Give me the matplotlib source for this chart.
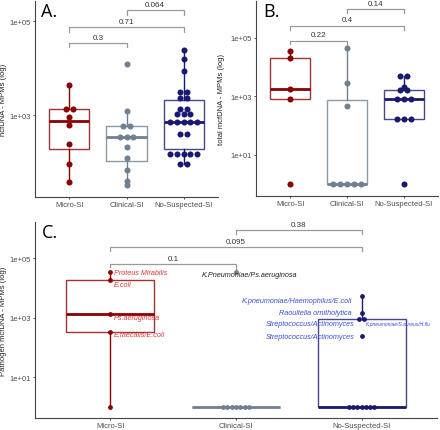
import numpy as np
import matplotlib.pyplot as plt
from matplotlib import cbook

plt.rcParams['font.family'] = ['Liberation Sans', 'DejaVu Sans']

groups = ["Micro-SI", "Clinical-SI", "No-Suspected-SI"]
colors = ["#8B0000", "#708090", "#191970"]

# A. hcfDNA
hcf_micro = [4350, 1360, 1360, 906, 612, 245, 89, 37.5]
hcf_clin = [11970, 1216, 583, 583, 340, 340, 340, 208, 124, 68, 39, 32]
hcf_nosusp = [24900, 15300, 8630, 3080, 3080, 2340, 2340, 1365, 1365,
              1067, 1067, 1067, 709, 709, 709, 709, 709, 401, 401,
              146, 146, 146, 146, 146, 89, 89]
p_hcf = ["0.3", "0.71", "0.064"]

# B. total mcfDNA
tot_micro = [36000, 19700, 1780, 830, 1]
tot_clin = [44500, 2850, 467, 1, 1, 1, 1, 1]
tot_nosusp = [4800, 4800, 2030, 1560, 1560, 810, 810, 810, 160, 160, 160, 1]
p_tot = ["0.22", "0.4", "0.14"]

# C. pathogen mcfDNA
pat_micro = [33000, 17700, 1360, 330, 1]
pat_micro_lab = ["Proteus Mirabilis", "E.coli", "Ps.aeruginosa", "E.faecalis/E.coli", None]
pat_clin = [34000, 1, 1, 1, 1, 1, 1, 1]
pat_clin_lab = ["K.Pneumoniae/Ps.aeruginosa"] + [None] * 7
pat_nosusp = [5240, 1470, 900, 900, 240, 1, 1, 1, 1, 1, 1, 1]
pat_nosusp_lab = ["K.pneumoniae/Haemophilus/E.coli", "Raoultella ornitholytica",
                  "Streptococcus/Actinomyces", "K.pneumoniae/S.aureus/H.flu",
                  "Streptococcus/Actinomyces"] + [None] * 7
p_pat = ["0.1", "0.095", "0.38"]


def box_dots(ax, data, step, dot_s):
    for i, (vals, col) in enumerate(zip(data, colors)):
        pos = i + 1
        # box stats on log scale (like scale_y_log10 in ggplot)
        st = cbook.boxplot_stats(np.log10(vals), whis=1.5)[0]
        for k in ["med", "q1", "q3", "whislo", "whishi", "mean"]:
            st[k] = 10 ** st[k]
        st["fliers"] = []
        ax.bxp([st], positions=[pos], widths=0.7, showfliers=False,
               showcaps=False, patch_artist=True,
               boxprops=dict(facecolor="none", edgecolor=col, linewidth=1.0, alpha=0.8),
               whiskerprops=dict(color=col, linewidth=1.0),
               medianprops=dict(color=col, linewidth=2.0))
        # centred dot stacks
        vals = np.array(vals, dtype=float)
        xs = np.zeros(len(vals))
        for v in np.unique(vals):
            idx = np.where(vals == v)[0]
            n = len(idx)
            xs[idx] = pos + (np.arange(n) - (n - 1) / 2) * step
        ax.scatter(xs, vals, s=dot_s, color=col, zorder=3, linewidths=0)


def bracket(ax, x1, x2, y, label, tip1, tip2):
    ax.plot([x1, x1, x2, x2], [y / 10 ** tip1, y, y, y / 10 ** tip2],
            color="#9a9a9a", lw=0.9)
    ax.annotate(label, ((x1 + x2) / 2, y), xytext=(0, 1.5), textcoords="offset points",
                ha="center", va="bottom", fontsize=5.8, color="#333333")


def style(ax, ylim, ylabel, ticks, letter, lx):
    ax.set_yscale("log")
    ax.set_ylim(*ylim)
    ax.set_xlim(0.4, 3.6)
    ax.set_yticks(ticks)
    ax.set_yticklabels(["1e+%02d" % int(np.log10(t)) for t in ticks])
    ax.minorticks_off()
    ax.set_xticks([1, 2, 3])
    ax.set_xticklabels(groups)
    ax.tick_params(labelsize=5.5, labelcolor="#4d4d4d", length=1.5, width=0.6,
                   color="#333333", pad=1.5)
    ax.set_ylabel(ylabel, fontsize=5.5, color="#222222")
    for s in ["top", "right"]:
        ax.spines[s].set_visible(False)
    for s in ["left", "bottom"]:
        ax.spines[s].set_linewidth(0.8)
        ax.spines[s].set_color("#444444")
    ax.text(lx, 0.997, letter, transform=ax.transAxes, fontsize=13, va="top", ha="left",
            family=["Open Sans", "DejaVu Sans"])


fig = plt.figure(figsize=(4.40, 4.31), dpi=100)
axA = fig.add_axes([0.0795, 0.5406, 0.416, 0.4548])
axB = fig.add_axes([0.5818, 0.543, 0.4136, 0.4524])
axC = fig.add_axes([0.0795, 0.0278, 0.9136, 0.4548])

box_dots(axA, [hcf_micro, hcf_clin, hcf_nosusp], 0.118, 19)
style(axA, (10 ** 1.255, 10 ** 5.43), "hcfDNA - MPMs (log)", [1e3, 1e5], "A.", 0.035)
bracket(axA, 1, 2, 10 ** 4.54, p_hcf[0], 0.1, 0.1)
bracket(axA, 1, 3, 10 ** 4.87, p_hcf[1], 0.1, 0.1)
bracket(axA, 2, 3, 10 ** 5.23, p_hcf[2], 0.1, 0.1)
axA.yaxis.set_label_coords(-0.153, 0.5)

box_dots(axB, [tot_micro, tot_clin, tot_nosusp], 0.12, 19)
style(axB, (10 ** -0.41, 10 ** 6.25), "total mcfDNA - MPMs (log)", [1e1, 1e3, 1e5], "B.", 0.04)
bracket(axB, 1, 2, 10 ** 4.9, p_tot[0], 0.12, 0.25)
bracket(axB, 1, 3, 10 ** 5.41, p_tot[1], 0.15, 0.15)
bracket(axB, 2, 3, 10 ** 5.98, p_tot[2], 0.15, 0.15)
axB.yaxis.set_label_coords(-0.17, 0.5)

box_dots(axC, [pat_micro, pat_clin, pat_nosusp], 0.034, 12)
style(axC, (10 ** -0.37, 10 ** 6.21), "Pathogen mcfDNA - MPMs (log)", [1e1, 1e3, 1e5], "C.", 0.017)
bracket(axC, 1, 2, 10 ** 4.8, p_pat[0], 0.11, 0.25)
bracket(axC, 1, 3, 10 ** 5.38, p_pat[1], 0.13, 0.13)
bracket(axC, 2, 3, 10 ** 5.94, p_pat[2], 0.13, 0.13)
axC.yaxis.set_label_coords(-0.07, 0.5)

# pathogen labels
red_dy = [0, -3, -3, -2, 0]
for v, lab, dy in zip(pat_micro, pat_micro_lab, red_dy):
    if lab:
        axC.annotate(lab, (1, v), xytext=(2.5, dy), textcoords="offset points",
                     ha="left", va="center", fontsize=5.2, style="italic", color="#e8363a")
for v, lab in zip(pat_clin, pat_clin_lab):
    if lab:
        axC.annotate(lab, (2, v), xytext=(9.5, -1.5), textcoords="offset points",
                     ha="center", va="center", fontsize=5.2, style="italic", color="#222222")
blue_dx = [-7, -7, -5, 3, -5]
blue_dy = [-3, 0, -3, -3, 0]
blue_fs = [5.2, 5.2, 5.2, 3.6, 5.2]
for v, lab, dx, dy, fs in zip(pat_nosusp, pat_nosusp_lab, blue_dx, blue_dy, blue_fs):
    if lab:
        axC.annotate(lab, (3, v), xytext=(dx, dy), textcoords="offset points",
                     ha="left" if dx > 0 else "right", va="center", fontsize=fs,
                     style="italic", color="#3a4ee0")

fig.savefig("out.png", dpi=100)
